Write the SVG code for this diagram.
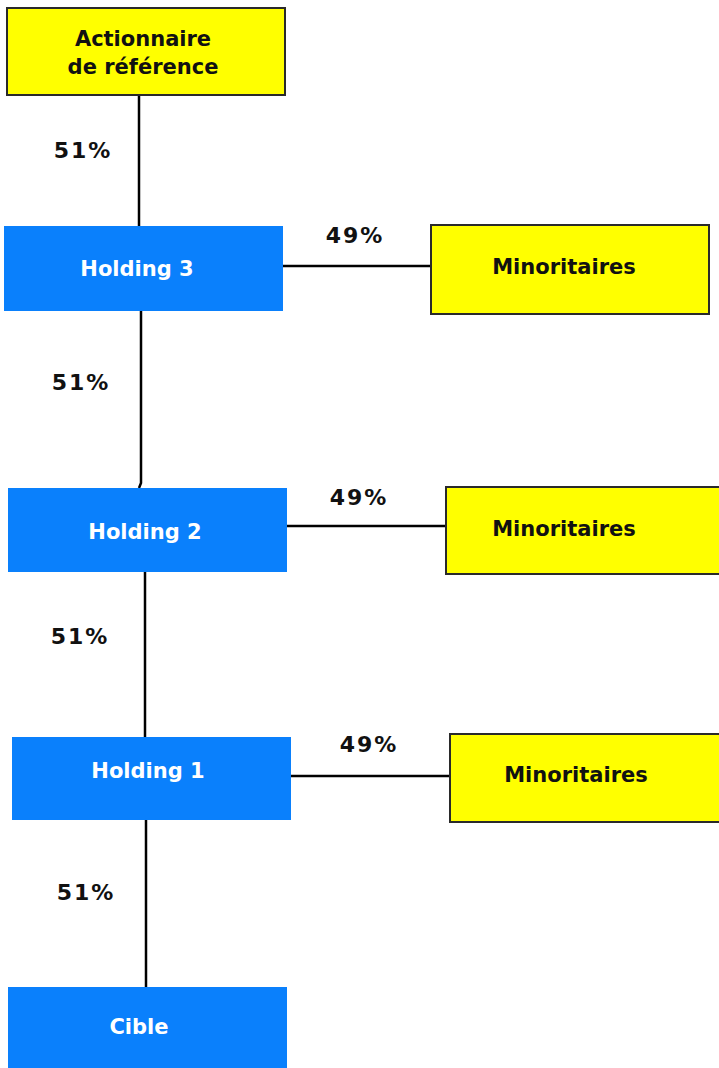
<svg xmlns="http://www.w3.org/2000/svg" width="719" height="1068" viewBox="0 0 719 1068">
  <style>
    .yellow { fill: #ffff00; stroke: #2a2a2a; stroke-width: 2; }
    .blue { fill: #0a80fc; }
    .lbl { font-family: "DejaVu Sans", "Liberation Sans", sans-serif; font-weight: bold; font-size: 21px; text-anchor: middle; }
    .dark { fill: #111; }
    .light { fill: #ffffff; }
    .pct { font-family: "DejaVu Sans", "Liberation Sans", sans-serif; font-weight: bold; font-size: 22px; text-anchor: middle; fill: #111; letter-spacing: 2px; }
    .link { fill: none; stroke: #000; stroke-width: 2.5; }
  </style>

  <g id="connectors">
    <line class="link" x1="139" y1="95" x2="139" y2="226"/>
    <line class="link" x1="283" y1="266" x2="431" y2="266"/>
    <path class="link" d="M141,311 L141,483 L139,488"/>
    <line class="link" x1="287" y1="526" x2="446" y2="526"/>
    <line class="link" x1="145" y1="572" x2="145" y2="737"/>
    <line class="link" x1="291" y1="776" x2="450" y2="776"/>
    <line class="link" x1="146" y1="820" x2="146" y2="987"/>
  </g>

  <g id="labels">
    <text class="pct" x="83" y="158">51%</text>
    <text class="pct" x="355" y="243">49%</text>
    <text class="pct" x="81" y="390">51%</text>
    <text class="pct" x="359" y="505">49%</text>
    <text class="pct" x="80" y="644">51%</text>
    <text class="pct" x="369" y="752">49%</text>
    <text class="pct" x="86" y="900">51%</text>
  </g>

  <g id="actionnaire">
    <rect class="yellow" x="7" y="8" width="278" height="87"/>
    <text class="lbl dark" x="143" y="46">Actionnaire</text>
    <text class="lbl dark" x="143" y="74">de référence</text>
  </g>

  <g id="holding3">
    <rect class="blue" x="4" y="226" width="279" height="85"/>
    <text class="lbl light" x="137" y="276">Holding 3</text>
  </g>

  <g id="minoritaires3">
    <rect class="yellow" x="431" y="225" width="278" height="89"/>
    <text class="lbl dark" x="564" y="274">Minoritaires</text>
  </g>

  <g id="holding2">
    <rect class="blue" x="8" y="488" width="279" height="84"/>
    <text class="lbl light" x="145" y="539">Holding 2</text>
  </g>

  <g id="minoritaires2">
    <rect class="yellow" x="446" y="487" width="280" height="87"/>
    <text class="lbl dark" x="564" y="536">Minoritaires</text>
  </g>

  <g id="holding1">
    <rect class="blue" x="12" y="737" width="279" height="83"/>
    <text class="lbl light" x="148" y="778">Holding 1</text>
  </g>

  <g id="minoritaires1">
    <rect class="yellow" x="450" y="734" width="280" height="88"/>
    <text class="lbl dark" x="576" y="782">Minoritaires</text>
  </g>

  <g id="cible">
    <rect class="blue" x="8" y="987" width="279" height="90"/>
    <text class="lbl light" x="139" y="1034">Cible</text>
  </g>
</svg>
